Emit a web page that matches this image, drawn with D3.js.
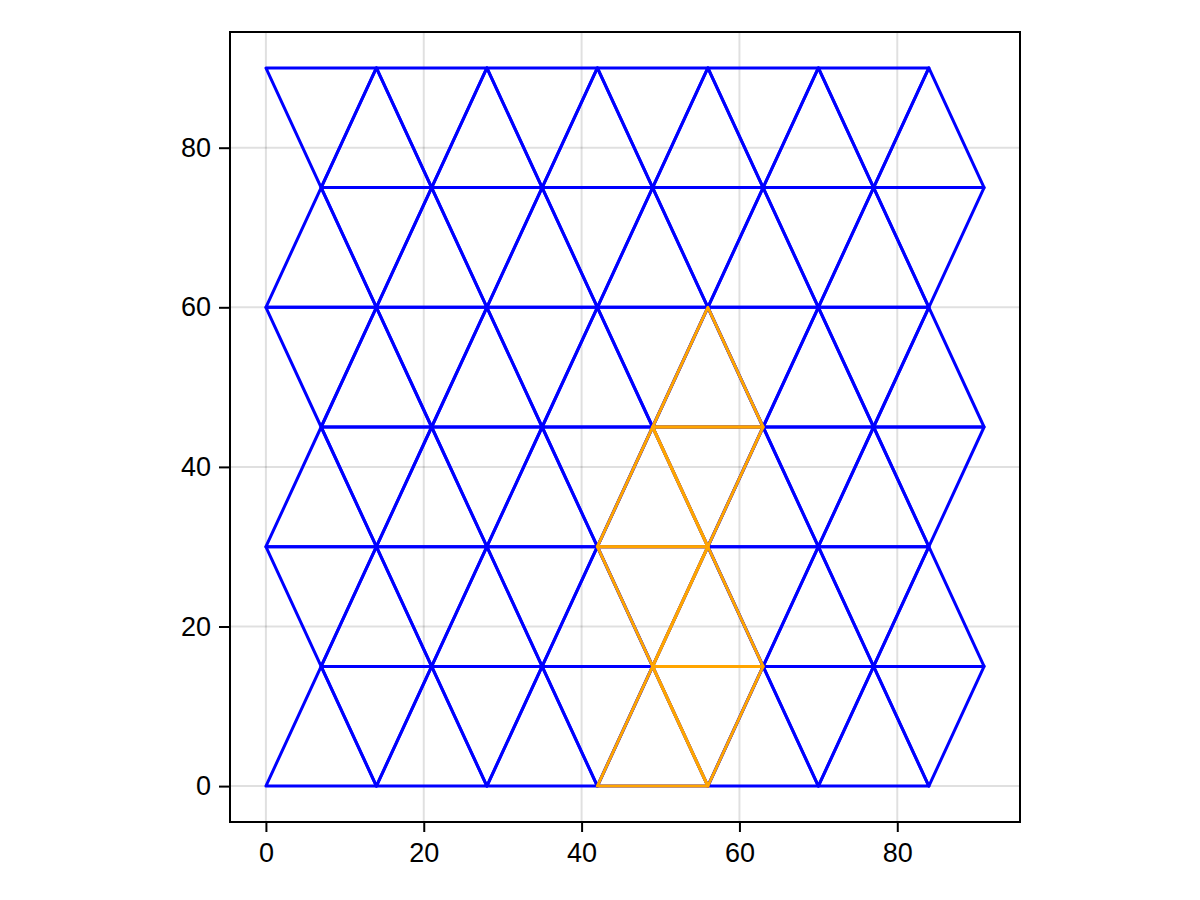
<!DOCTYPE html>
<html>
<head>
<meta charset="utf-8">
<script src="https://cdn.jsdelivr.net/npm/d3@7"></script>
<style>
  html, body { margin: 0; padding: 0; background: #fff; }
  svg { display: block; }
  text { font-family: "Liberation Sans", Arial, sans-serif; }
</style>
</head>
<body>
<svg id="chart" width="1200" height="900"></svg>
<script>
// ---- data ----
const rowY = [0, 15, 30, 45, 60, 75, 90];
const evenRowX = [0, 14, 28, 42, 56, 70, 84];
const oddRowX = [7, 21, 35, 49, 63, 77, 91];
const highlighted = [
  [[42, 0], [56, 0], [49, 15]],
  [[49, 15], [63, 15], [56, 0]],
  [[42, 30], [56, 30], [49, 15]],
  [[49, 15], [63, 15], [56, 30]],
  [[42, 30], [56, 30], [49, 45]],
  [[49, 45], [63, 45], [56, 30]],
  [[49, 45], [63, 45], [56, 60]]
];
const xTicks = [0, 20, 40, 60, 80];
const yTicks = [0, 20, 40, 60, 80];

// ---- mesh triangles from rows ----
const triangles = [];
for (let r = 0; r < rowY.length - 1; r++) {
  const lower = (r % 2 === 0 ? evenRowX : oddRowX).map(v => [v, rowY[r]]);
  const upper = ((r + 1) % 2 === 0 ? evenRowX : oddRowX).map(v => [v, rowY[r + 1]]);
  const pts = lower.concat(upper).sort((a, b) => a[0] - b[0]);
  for (let i = 0; i + 2 < pts.length; i++) triangles.push([pts[i], pts[i + 1], pts[i + 2]]);
}

// ---- layout ----
const pLeft = 230, pRight = 1020, pTop = 32, pBottom = 822;
const svg = d3.select("#chart");
const xs = d3.scaleLinear().domain([-4.55, 95.55]).range([pLeft, pRight]);
const ys = d3.scaleLinear().domain([-4.5, 94.5]).range([pBottom, pTop]);

// grid
const grid = svg.append("g");
grid.selectAll("line.vx").data(xTicks).join("line")
  .attr("x1", d => xs(d)).attr("x2", d => xs(d))
  .attr("y1", pTop).attr("y2", pBottom)
  .attr("stroke", "#000").attr("stroke-opacity", 0.12).attr("stroke-width", 2);
grid.selectAll("line.hy").data(yTicks).join("line")
  .attr("y1", d => ys(d)).attr("y2", d => ys(d))
  .attr("x1", pLeft).attr("x2", pRight)
  .attr("stroke", "#000").attr("stroke-opacity", 0.12).attr("stroke-width", 2);

// mesh
const lineGen = d3.line().x(d => xs(d[0])).y(d => ys(d[1]));
const tri = t => lineGen(t) + "Z";
svg.append("g").selectAll("path").data(triangles).join("path")
  .attr("d", tri).attr("fill", "none").attr("stroke", "#0000ff")
  .attr("stroke-width", 3).attr("stroke-linejoin", "round");
svg.append("g").selectAll("path").data(highlighted).join("path")
  .attr("d", tri).attr("fill", "none").attr("stroke", "#ffa500")
  .attr("stroke-width", 3).attr("stroke-linejoin", "round");

// frame
svg.append("rect").attr("x", pLeft).attr("y", pTop)
  .attr("width", pRight - pLeft).attr("height", pBottom - pTop)
  .attr("fill", "none").attr("stroke", "#000").attr("stroke-width", 2);

// axes
const xAxis = d3.axisBottom(xs).tickValues(xTicks).tickSize(10).tickPadding(11).tickFormat(d3.format("d"));
const yAxis = d3.axisLeft(ys).tickValues(yTicks).tickSize(11).tickPadding(8).tickFormat(d3.format("d"));
const gx = svg.append("g").attr("transform", `translate(0,${pBottom})`).call(xAxis);
const gy = svg.append("g").attr("transform", `translate(${pLeft},0)`).call(yAxis);
[gx, gy].forEach(g => {
  g.select(".domain").remove();
  g.selectAll(".tick line").attr("stroke", "#000").attr("stroke-width", 2);
  g.selectAll(".tick text").attr("fill", "#000").style("font-size", "27px")
    .style("font-family", "'Liberation Sans', Arial, sans-serif");
});
</script>
</body>
</html>
